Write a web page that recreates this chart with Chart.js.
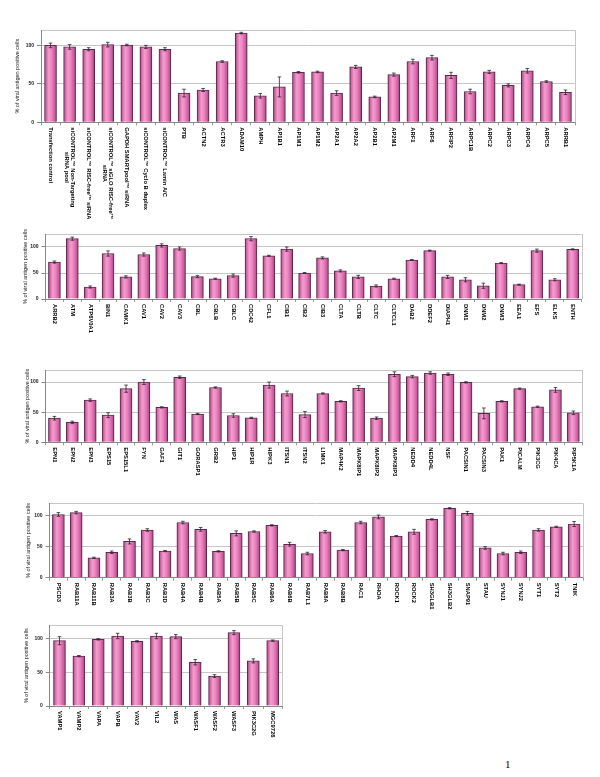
<!DOCTYPE html>
<html>
<head>
<meta charset="utf-8">
<script src="https://cdn.jsdelivr.net/npm/chart.js@4.4.0/dist/chart.umd.min.js"></script>
<style>
html, body { margin: 0; padding: 0; background: #fff; }
body { width: 600px; height: 777px; position: relative; overflow: hidden; }
canvas { position: absolute; left: 0; }
#page { position: absolute; left: 505px; top: 758px; font: 11px "Liberation Serif", serif; color: #000; }
</style>
</head>
<body>
<div id="page">1</div>
<script>
// data
const labels1 = ["Transfection control", ["siCONTROL™ Non-Targeting", "siRNA pool"], "siCONTROL™ RISC-free™ siRNA",
  ["siCONTROL™ siGLO RISC-free™", "siRNA"], "GAPDH SMARTpool™ siRNA", "siCONTROL™ Cyclo B duplex", "siCONTROL™ Lamin A/C",
  "PTB", "ACTN2", "ACTR3", "ADAM10", "AMPH", "AP1B1", "AP1M1", "AP1M2", "AP2A1", "AP2A2", "AP2B1", "AP2M1",
  "ARF1", "ARF6", "ARFIP2", "ARPC1B", "ARPC2", "ARPC3", "ARPC4", "ARPC5", "ARRB1"];
const values1 = [100, 98, 95, 101, 100.5, 98, 95, 38, 42, 79, 116, 34.5, 46, 65, 65.5, 38, 72, 33, 62, 79, 84, 61, 40, 65.5, 48, 67, 53, 39];
const errors1 = [3, 3, 2, 3, 1, 2, 2, 5, 2, 1, 1, 3, 13, 1, 1, 3, 2, 1, 2, 3, 3, 4, 3, 2, 2, 3, 1, 3];

const labels2 = ["ARRB2", "ATM", "ATP6V0A1", "BIN1", "CAMK1", "CAV1", "CAV2", "CAV3", "CBL", "CBLB", "CBLC", "CDC42",
  "CFL1", "CIB1", "CIB2", "CIB3", "CLTA", "CLTB", "CLTC", "CLTCL1", "DAB2", "DDEF2", "DIAPH1", "DNM1", "DNM2", "DNM3",
  "EEA1", "EFS", "ELKS", "ENTH"];
const values2 = [71, 116, 23, 87.5, 42.5, 85.5, 103, 97, 43, 39, 45, 116, 83, 96, 50, 79, 54, 42.5, 25, 39, 75, 93, 42.5, 37, 25.5, 69, 27.5, 93, 37, 95.5];
const errors2 = [2, 3, 2, 5, 2, 3, 3, 3, 2, 1, 3, 4, 1, 4, 1, 2, 2, 3, 2, 1, 1, 1, 3, 4, 5, 1, 1, 3, 2, 1];

const labels3 = ["EPN1", "EPN2", "EPN3", "EPS15", "EPS15L1", "FYN", "GAF1", "GIT1", "GORASP1", "GRB2", "HIP1", "HIP1R",
  "HIPK3", "ITSN1", "ITSN2", "LIMK1", "MAP4K2", "MAPK8IP1", "MAPK8IP2", "MAPK8IP3", "NEDD4", "NEDD4L", "NSF",
  "PACSIN1", "PACSIN3", "PAK1", "PICALM", "PIK3CG", "PIK4CA", "PIP5K1A"];
const values3 = [40, 33, 70, 45, 89, 100, 58, 108, 47, 91, 44.5, 40.5, 95, 81, 46, 81, 68, 90, 40, 113, 109, 115, 113, 99.5, 48, 68, 89, 59, 87, 49];
const errors3 = [3, 2, 2, 4, 6, 4, 1, 2, 1, 1, 3, 1, 5, 4, 5, 1, 1, 4, 2, 4, 2, 2, 2, 1, 9, 1, 1, 1, 4, 3];

const labels4 = ["PSCD3", "RAB11A", "RAB11B", "RAB3A", "RAB3B", "RAB3C", "RAB3D", "RAB4A", "RAB4B", "RAB5A", "RAB5B",
  "RAB5C", "RAB6A", "RAB6B", "RAB7L1", "RAB8A", "RAB8B", "RAC1", "RHOA", "ROCK1", "ROCK2", "SH3GLB1", "SH3GLB2",
  "SNAP91", "STAU", "SYNJ1", "SYNJ2", "SYT1", "SYT2", "TNIK"];
const values4 = [102, 105, 32, 41, 58.5, 77, 43, 89, 78, 42.5, 71.5, 74.5, 84.5, 54, 39, 74, 44.5, 89, 98, 67, 74, 94, 112, 104, 48, 39, 41, 77, 82, 86.5];
const errors4 = [3, 2, 1, 2, 4, 2, 1, 2, 3, 1, 4, 1, 1, 3, 2, 2, 1, 2, 3, 1, 4, 1, 1, 3, 2, 2, 2, 2, 1, 4];

const labels5 = ["VAMP1", "VAMP2", "VAPA", "VAPB", "VAV2", "VIL2", "WAS", "WASF1", "WASF2", "WASF3", "PIK3C2G", "MGC9726"];
const values5 = [97, 74, 99, 104, 96, 104, 103, 65, 44.5, 109, 67, 97];
const errors5 = [6, 1, 1, 4, 1, 4, 3, 4, 2, 3, 3, 1];

const yTitle = "% of viral antigen positive cells";

// where each panel sits on the page
const panels = [
  { labels: labels1, values: values1, errors: errors1, left: 41, right: 575, top: 30, axis: 122.3, max: 120, titleX: 17, below: 96 },
  { labels: labels2, values: values2, errors: errors2, left: 45.5, right: 581.6, top: 234, axis: 299, max: 125, titleX: 25, below: 42 },
  { labels: labels3, values: values3, errors: errors3, left: 45.5, right: 582.3, top: 370, axis: 442.3, max: 120, titleX: 27, below: 42 },
  { labels: labels4, values: values4, errors: errors4, left: 49.5, right: 583, top: 503.3, axis: 577.7, max: 120, titleX: 28, below: 42 },
  { labels: labels5, values: values5, errors: errors5, left: 49.8, right: 282.4, top: 625.2, axis: 706, max: 120, titleX: 26, below: 42 }
];

const BAR_W = 12;

function barFill(c) {
  const chart = c.chart;
  const xs = chart.scales.x;
  if (!xs || c.dataIndex === undefined || !isFinite(xs.left) || !isFinite(xs.right)) return '#e67cba';
  const cx = xs.getPixelForValue(c.dataIndex);
  const g = chart.ctx.createLinearGradient(cx - BAR_W / 2, 0, cx + BAR_W / 2, 0);
  g.addColorStop(0, '#8f3f74');
  g.addColorStop(0.14, '#d068a6');
  g.addColorStop(0.36, '#f59ccf');
  g.addColorStop(0.58, '#ec86c0');
  g.addColorStop(0.86, '#c65c9a');
  g.addColorStop(1, '#813465');
  return g;
}

const frame = {
  id: 'frame',
  beforeDatasetsDraw(chart) {
    const { ctx, chartArea } = chart;
    ctx.save();
    ctx.strokeStyle = '#c6c6c6';
    ctx.lineWidth = 1;
    ctx.beginPath();
    ctx.moveTo(Math.round(chartArea.right) + 0.5, chartArea.top);
    ctx.lineTo(Math.round(chartArea.right) + 0.5, chartArea.bottom);
    ctx.stroke();
    ctx.restore();
  }
};

const errorBars = {
  id: 'errorBars',
  afterDatasetsDraw(chart) {
    const { ctx } = chart;
    const ys = chart.scales.y;
    const ds = chart.data.datasets[0];
    const meta = chart.getDatasetMeta(0);
    ctx.save();
    ctx.strokeStyle = '#2e2229';
    ctx.lineWidth = 0.8;
    meta.data.forEach((bar, i) => {
      const v = ds.data[i], e = ds.errors[i];
      const y1 = ys.getPixelForValue(v + e);
      const y2 = ys.getPixelForValue(v - e);
      ctx.beginPath();
      ctx.moveTo(bar.x, y1); ctx.lineTo(bar.x, y2);
      ctx.moveTo(bar.x - 1.8, y1); ctx.lineTo(bar.x + 1.8, y1);
      ctx.moveTo(bar.x - 1.8, y2); ctx.lineTo(bar.x + 1.8, y2);
      ctx.stroke();
    });
    ctx.restore();
  }
};

// category names run downwards from the axis
const tickText = {
  id: 'tickText',
  afterDraw(chart) {
    const { ctx, chartArea } = chart;
    const xs = chart.scales.x;
    ctx.save();
    ctx.font = 'bold 5.8px "Liberation Sans", Arial, sans-serif';
    ctx.fillStyle = '#000';
    ctx.textBaseline = 'middle';
    ctx.textAlign = 'left';
    chart.data.labels.forEach((lab, i) => {
      const lines = Array.isArray(lab) ? lab : [lab];
      const widths = lines.map(t => ctx.measureText(t).width);
      const maxW = Math.max(...widths);
      ctx.save();
      ctx.translate(xs.getPixelForValue(i), chartArea.bottom + 5);
      ctx.rotate(Math.PI / 2);
      lines.forEach((t, j) => {
        ctx.fillText(t, (maxW - widths[j]) / 2, (j - (lines.length - 1) / 2) * 6.2);
      });
      ctx.restore();
    });
    ctx.restore();
  }
};

panels.forEach(p => {
  const cv = document.createElement('canvas');
  const cTop = Math.floor(p.top) - 6;
  const h = Math.ceil(p.axis + p.below) - cTop;
  cv.width = 600;
  cv.height = h;
  cv.style.top = cTop + 'px';
  document.body.appendChild(cv);

  new Chart(cv, {
    type: 'bar',
    data: {
      labels: p.labels,
      datasets: [{
        data: p.values,
        errors: p.errors,
        backgroundColor: barFill,
        borderColor: '#5e2a4f',
        borderWidth: 1,
        barThickness: BAR_W
      }]
    },
    options: {
      responsive: false,
      animation: false,
      devicePixelRatio: 1,
      layout: {
        padding: { left: 0, top: p.top - cTop, right: 600 - p.right, bottom: h - (p.axis - cTop) - 4 }
      },
      plugins: { legend: { display: false }, tooltip: { enabled: false } },
      scales: {
        x: {
          afterFit: s => { s.height = 4; },
          ticks: { display: false },
          grid: { drawOnChartArea: false, tickLength: 3, color: '#999' },
          border: { color: '#888' }
        },
        y: {
          min: 0,
          max: p.max,
          afterFit: s => { s.width = p.left; },
          ticks: {
            stepSize: 50,
            padding: 3,
            color: '#222',
            font: { size: 5, weight: 'bold', family: '"Liberation Sans", Arial, sans-serif' },
            callback: v => (v % 50 === 0 ? v : '')
          },
          grid: {
            tickLength: 4,
            color: c => (c.tick.value === 0 ? 'rgba(0,0,0,0)' : '#c6c6c6'),
            tickColor: c => (c.tick.value % 50 === 0 ? '#888' : 'rgba(0,0,0,0)')
          },
          border: { color: '#888' },
          title: {
            display: true,
            text: yTitle,
            color: '#222',
            font: { size: 5.5, lineHeight: 1.2, family: '"Liberation Sans", Arial, sans-serif' },
            padding: { top: p.titleX - 3.3, bottom: 0 }
          }
        }
      }
    },
    plugins: [frame, errorBars, tickText]
  });
});
</script>
</body>
</html>
